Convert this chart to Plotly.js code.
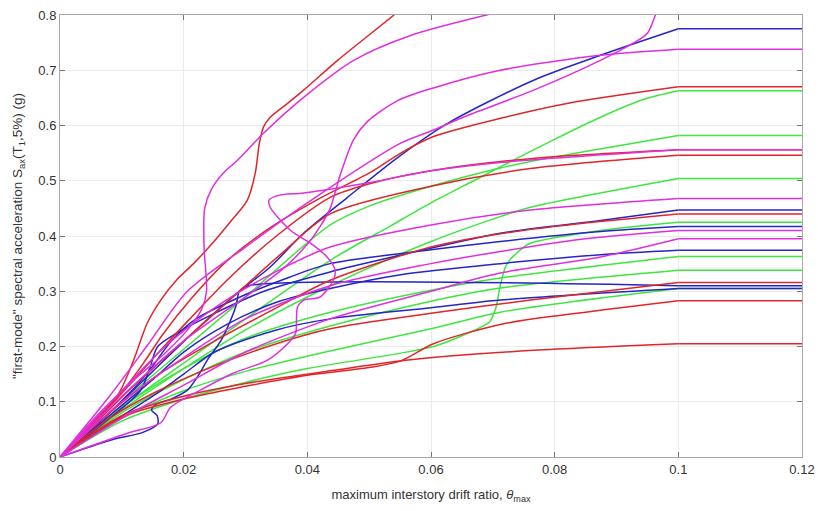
<!DOCTYPE html>
<html>
<head>
<meta charset="utf-8">
<script src="https://cdn.plot.ly/plotly-3.0.1.min.js"></script>
<style>html,body{margin:0;padding:0;background:#fff;}#chart{width:818px;height:511px;}</style>
</head>
<body>
<div id="chart"></div>
<script>
// ---- Red curves ----
const red1X = [0,0.006,0.0095,0.0119,0.0141,0.0163,0.019,0.0216,0.0245,0.0275,0.0303,0.0316,0.0322,0.0329,0.034,0.0368,0.0394,0.0449,0.054,0.056];
const red1Y = [0,0.07,0.115,0.175,0.242,0.284,0.322,0.35,0.385,0.425,0.465,0.515,0.565,0.597,0.615,0.64,0.664,0.718,0.8,0.82];
const red2X = [0,0.006,0.0105,0.0135,0.0165,0.0211,0.027,0.034,0.042,0.0502,0.0551,0.0604,0.0712,0.082,0.1,0.12];
const red2Y = [0,0.07,0.125,0.17,0.22,0.285,0.355,0.415,0.468,0.515,0.55,0.58,0.613,0.64,0.67,0.67];
const red3X = [0,0.007,0.012,0.016,0.021,0.027,0.035,0.0437,0.0502,0.06,0.0761,0.1,0.12];
const red3Y = [0,0.08,0.14,0.19,0.25,0.32,0.4,0.47,0.495,0.518,0.54,0.556,0.556];
const red4X = [0,0.007,0.012,0.017,0.022,0.029,0.036,0.0437,0.06,0.0761,0.1,0.12];
const red4Y = [0,0.075,0.13,0.18,0.23,0.3,0.37,0.44,0.49,0.522,0.546,0.546];
const red5X = [0,0.008,0.016,0.025,0.035,0.0437,0.06,0.0761,0.1,0.12];
const red5Y = [0,0.08,0.15,0.21,0.27,0.32,0.38,0.412,0.44,0.44];
const red6X = [0,0.008,0.015,0.025,0.035,0.0437,0.06,0.0761,0.1,0.12];
const red6Y = [0,0.07,0.115,0.165,0.205,0.232,0.26,0.284,0.316,0.316];
const red7X = [0,0.01,0.02,0.03,0.04,0.05,0.0551,0.0604,0.0712,0.082,0.1,0.12];
const red7Y = [0,0.072,0.105,0.128,0.148,0.162,0.174,0.205,0.24,0.258,0.283,0.283];
const red8X = [0,0.01,0.02,0.03,0.0443,0.0567,0.0766,0.1,0.12];
const red8Y = [0,0.075,0.11,0.133,0.157,0.176,0.193,0.205,0.205];

// ---- Green curves ----
const green1X = [0,0.01,0.02,0.03,0.0437,0.0534,0.06,0.0669,0.0712,0.08,0.0874,0.0943,0.1,0.12];
const green1Y = [0,0.09,0.17,0.25,0.356,0.418,0.46,0.5,0.525,0.575,0.615,0.647,0.663,0.663];
const green2X = [0,0.01,0.02,0.03,0.0437,0.0502,0.06,0.0712,0.0761,0.1,0.12];
const green2Y = [0,0.1,0.195,0.29,0.42,0.455,0.49,0.523,0.535,0.582,0.582];
const green3X = [0,0.01,0.02,0.03,0.0437,0.06,0.0712,0.0761,0.1,0.12];
const green3Y = [0,0.085,0.16,0.23,0.31,0.39,0.435,0.452,0.504,0.504];
const green4X = [0,0.01,0.02,0.03,0.04,0.0551,0.0604,0.0659,0.0695,0.0705,0.0712,0.0723,0.075,0.0761,0.0874,0.1,0.12];
const green4Y = [0,0.065,0.105,0.135,0.16,0.188,0.2,0.224,0.245,0.27,0.31,0.35,0.38,0.387,0.41,0.425,0.425];
const green5X = [0,0.01,0.02,0.03,0.0437,0.06,0.0712,0.1,0.12];
const green5Y = [0,0.09,0.16,0.215,0.262,0.302,0.324,0.363,0.363];
const green6X = [0,0.01,0.02,0.03,0.0437,0.06,0.0712,0.1,0.12];
const green6Y = [0,0.08,0.14,0.19,0.237,0.282,0.306,0.338,0.338];
const green7X = [0,0.01,0.02,0.03,0.0437,0.06,0.0712,0.1,0.12];
const green7Y = [0,0.07,0.12,0.155,0.192,0.232,0.262,0.305,0.305];

// ---- Blue curves ----
const blue1X = [0,0.008,0.015,0.022,0.0287,0.034,0.0394,0.0465,0.0546,0.0627,0.0766,0.0874,0.1,0.12];
const blue1Y = [0,0.08,0.155,0.23,0.297,0.344,0.405,0.47,0.542,0.604,0.682,0.727,0.775,0.775];
const blue2X = [0,0.008,0.013,0.0145,0.0158,0.019,0.025,0.033,0.0437,0.055,0.0712,0.0874,0.1,0.12];
const blue2Y = [0,0.07,0.12,0.16,0.2,0.225,0.26,0.3,0.335,0.365,0.405,0.428,0.447,0.447];
const blue3X = [0,0.008,0.014,0.018,0.022,0.0292,0.037,0.0437,0.06,0.0712,0.0874,0.1,0.12];
const blue3Y = [0,0.08,0.15,0.21,0.25,0.29,0.325,0.35,0.375,0.39,0.408,0.417,0.417];
const blue4X = [0,0.008,0.015,0.02,0.027,0.035,0.0437,0.0551,0.0712,0.0874,0.1,0.12];
const blue4Y = [0,0.075,0.14,0.19,0.24,0.28,0.305,0.33,0.35,0.366,0.374,0.374];
const blue5X = [0,0.008,0.0135,0.0158,0.0157,0.0148,0.0155,0.018,0.0206,0.0225,0.0238,0.026,0.0275,0.0285,0.029,0.0305,0.1,0.12];
const blue5Y = [0,0.03,0.045,0.06,0.075,0.085,0.095,0.105,0.121,0.15,0.175,0.21,0.245,0.275,0.3,0.31,0.31,0.31];
const blue6X = [0,0.008,0.015,0.02,0.025,0.035,0.0437,0.06,0.0712,0.1,0.12];
const blue6Y = [0,0.06,0.11,0.15,0.19,0.23,0.25,0.27,0.284,0.305,0.305];

// ---- Magenta curves ----
const mag1X = [0,0.006,0.012,0.0167,0.021,0.023,0.0237,0.0233,0.0234,0.0245,0.0265,0.0287,0.033,0.0394,0.0475,0.0567,0.069,0.071];
const mag1Y = [0,0.075,0.14,0.185,0.235,0.27,0.3,0.38,0.45,0.485,0.515,0.537,0.587,0.651,0.718,0.763,0.8,0.805];
const mag2X = [0,0.008,0.014,0.0206,0.03,0.04,0.0551,0.06,0.0659,0.0766,0.0874,0.0927,0.095,0.0963,0.097];
const mag2Y = [0,0.11,0.2,0.3,0.38,0.46,0.568,0.59,0.618,0.664,0.718,0.749,0.767,0.8,0.82];
const mag3X = [0,0.0109,0.0163,0.0179,0.0227,0.0281,0.0335,0.0368,0.0381,0.0384,0.0394,0.0421,0.0442,0.0445,0.0432,0.0405,0.0373,0.034,0.0338,0.0355,0.0394,0.0502,0.06,0.0712,0.1,0.12];
const mag3Y = [0,0.043,0.062,0.09,0.121,0.152,0.175,0.205,0.224,0.271,0.284,0.29,0.32,0.338,0.362,0.387,0.41,0.452,0.465,0.474,0.478,0.497,0.518,0.533,0.556,0.556];
const mag4X = [0,0.01,0.02,0.03,0.036,0.04,0.042,0.0437,0.0453,0.0475,0.0497,0.0546,0.0604,0.0712,0.0874,0.1,0.12];
const mag4Y = [0,0.11,0.21,0.29,0.34,0.385,0.416,0.45,0.51,0.575,0.607,0.645,0.668,0.7,0.727,0.738,0.738];
const mag5X = [0,0.01,0.017,0.025,0.034,0.0437,0.06,0.0761,0.1,0.12];
const mag5Y = [0,0.12,0.2,0.27,0.33,0.38,0.42,0.447,0.468,0.468];
const mag6X = [0,0.01,0.02,0.03,0.0437,0.06,0.0712,0.085,0.1,0.12];
const mag6Y = [0,0.1,0.18,0.25,0.31,0.35,0.372,0.395,0.41,0.41];
const mag7X = [0,0.01,0.02,0.03,0.0437,0.06,0.0712,0.0874,0.1,0.12];
const mag7Y = [0,0.07,0.13,0.19,0.25,0.3,0.333,0.362,0.395,0.395];

const xTickVals = [0,0.02,0.04,0.06,0.08,0.1,0.12];
const yTickVals = [0,0.1,0.2,0.3,0.4,0.5,0.6,0.7,0.8];

const RED = '#e0262a', GREEN = '#3ee63e', BLUE = '#2525c8', MAG = '#e02ee0';

const series = [
  [green1X,green1Y,GREEN],[green2X,green2Y,GREEN],[green3X,green3Y,GREEN],[green4X,green4Y,GREEN],
  [green5X,green5Y,GREEN],[green6X,green6Y,GREEN],[green7X,green7Y,GREEN],
  [blue1X,blue1Y,BLUE],[blue2X,blue2Y,BLUE],[blue3X,blue3Y,BLUE],[blue4X,blue4Y,BLUE],
  [blue5X,blue5Y,BLUE],[blue6X,blue6Y,BLUE],
  [red1X,red1Y,RED],[red2X,red2Y,RED],[red3X,red3Y,RED],[red4X,red4Y,RED],
  [red5X,red5Y,RED],[red6X,red6Y,RED],[red7X,red7Y,RED],[red8X,red8Y,RED],
  [mag1X,mag1Y,MAG],[mag2X,mag2Y,MAG],[mag3X,mag3Y,MAG],[mag4X,mag4Y,MAG],
  [mag5X,mag5Y,MAG],[mag6X,mag6Y,MAG],[mag7X,mag7Y,MAG]
];

const traces = [];
series.forEach(([xs, ys, c]) => {
  const last = xs.length - 1;
  const flatTail = xs[last] >= 0.12 && xs[last-1] === 0.1;
  const n = flatTail ? last : xs.length;
  traces.push({x: xs.slice(0, n), y: ys.slice(0, n), mode: 'lines', type: 'scatter',
    line: {color: c, width: 1.5, shape: 'spline', smoothing: 0.8}, hoverinfo: 'skip', showlegend: false});
  if (flatTail) {
    traces.push({x: xs.slice(last-1), y: ys.slice(last-1), mode: 'lines', type: 'scatter',
      line: {color: c, width: 1.5}, hoverinfo: 'skip', showlegend: false});
  }
});

const layout = {
  width: 818, height: 511,
  margin: {l: 60, r: 16, t: 15, b: 54},
  paper_bgcolor: '#fff', plot_bgcolor: '#fff',
  font: {family: 'Liberation Sans, Arial, sans-serif', color: '#333', size: 13},
  showlegend: false,
  xaxis: {
    range: [0, 0.12], tickvals: xTickVals, ticktext: xTickVals.map(String),
    showgrid: true, gridcolor: '#ebebeb', gridwidth: 1, zeroline: false,
    showline: true, linecolor: '#a8a8a8', linewidth: 1, mirror: 'ticks',
    ticks: 'inside', ticklen: 5, tickcolor: '#777',
    tickfont: {size: 13, color: '#333'},
    title: {text: 'maximum interstory drift ratio, <i>θ</i><sub>max</sub>', font: {size: 13, color: '#333'}, standoff: 14}
  },
  yaxis: {
    range: [0, 0.8], tickvals: yTickVals, ticktext: yTickVals.map(String),
    showgrid: true, gridcolor: '#ebebeb', gridwidth: 1, zeroline: false,
    showline: true, linecolor: '#a8a8a8', linewidth: 1, mirror: 'ticks',
    ticks: 'inside', ticklen: 5, tickcolor: '#777',
    tickfont: {size: 13, color: '#333'},
    title: {text: '"first-mode" spectral acceleration S<sub>ax</sub>(T<sub>1</sub>,5%) (g)', font: {size: 13.5, color: '#333'}, standoff: 12}
  }
};

Plotly.newPlot('chart', traces, layout, {displayModeBar: false, staticPlot: true});
</script>
</body>
</html>
